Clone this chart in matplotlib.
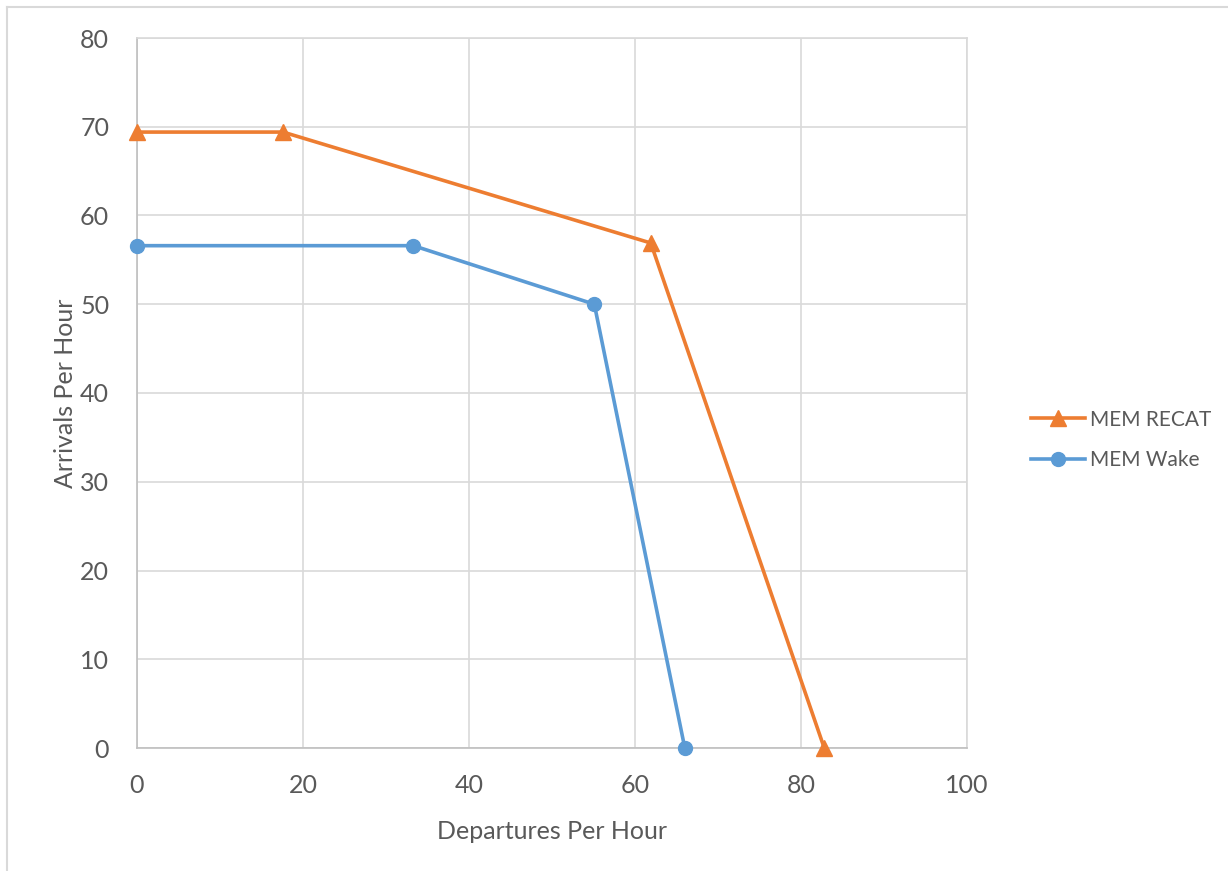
import matplotlib
matplotlib.use("Agg")
import matplotlib.pyplot as plt
from matplotlib.lines import Line2D

plt.rcParams['font.family'] = ['Lato', 'DejaVu Sans']

recat_x = [0, 17.6, 61.9, 82.8]
recat_y = [69.4, 69.4, 56.9, 0]
wake_x = [0, 33.3, 55.1, 66.0]
wake_y = [56.6, 56.6, 50.0, 0]
x_ticks = [0, 20, 40, 60, 80, 100]
y_ticks = [0, 10, 20, 30, 40, 50, 60, 70, 80]

fig = plt.figure(figsize=(12.28, 8.71), dpi=100)
ax = fig.add_axes([137/1228, 1-748/871, (967-137)/1228, (748-38)/871])

orange = '#ED7D31'
blue = '#5B9BD5'
txt = '#595959'
grid = '#D9D9D9'

ax.plot(recat_x, recat_y, color=orange, lw=2.6, marker='^', ms=11, label='MEM RECAT', clip_on=False, zorder=3)
ax.plot(wake_x, wake_y, color=blue, lw=2.6, marker='o', ms=10, label='MEM Wake', clip_on=False, zorder=3)

ax.set_xlim(0, 100)
ax.set_ylim(0, 80)
ax.set_xticks(x_ticks)
ax.set_yticks(y_ticks)
ax.grid(True, color=grid, lw=1.2)
ax.set_axisbelow(True)
for s in ax.spines.values():
    s.set_color(grid)
    s.set_linewidth(1.2)
ax.spines['left'].set_color('#BFBFBF')
ax.spines['bottom'].set_color('#BFBFBF')
ax.tick_params(length=0, labelsize=18, labelcolor=txt)
ax.tick_params(axis='y', pad=20)
ax.tick_params(axis='x', pad=19)

ax.set_xlabel('Departures Per Hour', fontsize=18, color=txt, labelpad=16)
ax.set_ylabel('Arrivals Per Hour', fontsize=18, color=txt, labelpad=2)

handles = [Line2D([], [], color=orange, lw=2.6, marker='^', ms=11),
           Line2D([], [], color=blue, lw=2.6, marker='o', ms=10)]
leg = fig.legend(handles, ['MEM RECAT', 'MEM Wake'], loc='center left',
                 bbox_to_anchor=(1012/1228, 1-440/871), frameon=False,
                 fontsize=15, handlelength=2.6, handletextpad=0.25, labelspacing=1.0)
for t in leg.get_texts():
    t.set_color(txt)

fig.add_artist(Line2D([7/1228, 7/1228], [0, 1-7/871], color='#D9D9D9', lw=1.5, transform=fig.transFigure))
fig.add_artist(Line2D([7/1228, 1], [1-7/871, 1-7/871], color='#D9D9D9', lw=1.5, transform=fig.transFigure))

fig.savefig('out.png', dpi=100)
